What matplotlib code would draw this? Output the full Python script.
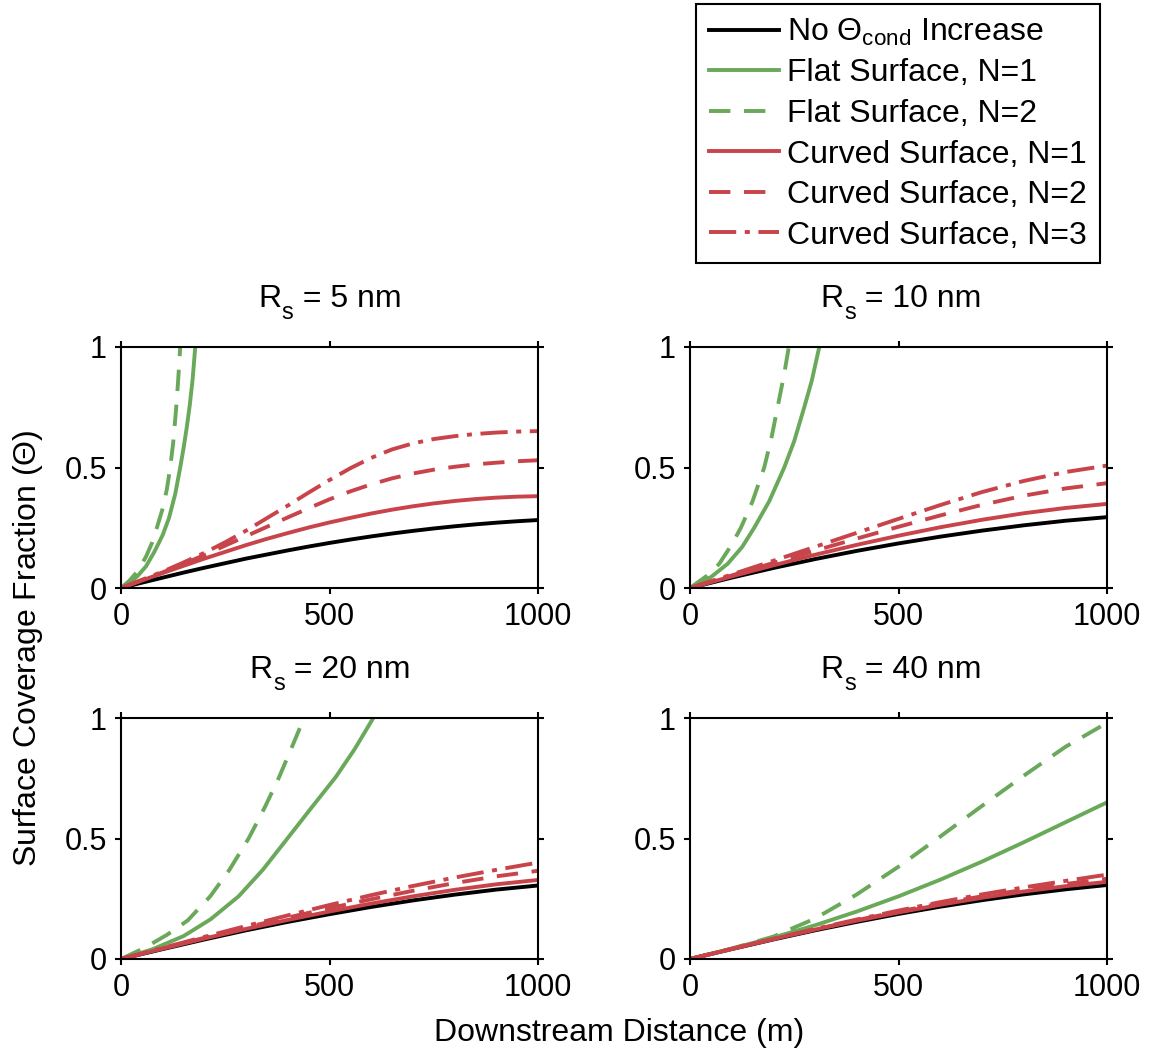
import matplotlib
matplotlib.use('Agg')
import matplotlib.pyplot as plt

plt.rcParams['font.family'] = ['Liberation Sans', 'DejaVu Sans']
plt.rcParams['mathtext.fontset'] = 'custom'
plt.rcParams['mathtext.rm'] = 'Liberation Sans'
plt.rcParams['mathtext.it'] = 'Liberation Sans:italic'
plt.rcParams['mathtext.bf'] = 'Liberation Sans:bold'

# downstream distance (m)
dist_fine = [0, 50, 100, 150, 200, 250, 300, 350, 400, 450, 500,
             550, 600, 650, 700, 750, 800, 850, 900, 950, 1000]
dist = [0, 100, 200, 300, 400, 500, 600, 700, 800, 900, 1000]

radii = ['5', '10', '20', '40']

# --- R_s = 5 nm (read on 50 m steps) ---
black_5 = [0, .022, .043, .064, .084, .103, .122, .139, .156, .172, .187,
           .201, .214, .226, .237, .247, .256, .264, .271, .277, .282]
red1_5 = [0, .031, .062, .092, .122, .150, .178, .204, .228, .251, .272,
          .291, .309, .325, .339, .351, .361, .369, .375, .379, .381]
red2_5 = [0, .032, .065, .100, .137, .176, .215, .254, .293, .331, .368,
          .401, .430, .455, .475, .491, .503, .513, .520, .526, .530]
red3_5 = [0, .034, .068, .106, .146, .190, .238, .290, .342, .396, .448,
          .497, .540, .575, .600, .618, .630, .639, .645, .649, .651]

# --- R_s = 10, 20, 40 nm (read on 100 m steps) ---
black_10 = [0, .043, .083, .120, .154, .185, .213, .238, .260, .279, .294]
red1_10 = [0, .048, .094, .138, .179, .217, .252, .283, .310, .332, .349]
red2_10 = [0, .052, .104, .155, .205, .254, .301, .345, .383, .413, .435]
red3_10 = [0, .056, .113, .171, .229, .287, .344, .398, .444, .481, .508]

black_20 = [0, .041, .081, .119, .154, .186, .216, .243, .267, .288, .305]
red1_20 = [0, .043, .085, .125, .162, .197, .230, .260, .287, .310, .328]
red2_20 = [0, .044, .088, .131, .172, .211, .248, .283, .315, .343, .366]
red3_20 = [0, .046, .092, .137, .181, .224, .265, .303, .338, .370, .400]

black_40 = [0, .041, .081, .119, .154, .187, .217, .244, .268, .289, .307]
red1_40 = [0, .042, .083, .122, .159, .193, .225, .254, .280, .302, .320]
red2_40 = [0, .042, .083, .123, .161, .197, .230, .260, .287, .311, .333]
red3_40 = [0, .042, .084, .125, .164, .201, .236, .268, .297, .324, .350]

# flat surface curves, each with its own x points
green1_x_5 = [0, 20, 40, 60, 80, 100, 115, 130, 142, 150, 158, 165, 172, 178]
green1_y_5 = [0, .02, .05, .09, .15, .22, .29, .39, .50, .58, .67, .76, .87, 1.0]
green2_x_5 = [0, 20, 40, 60, 75, 86, 100, 110, 118, 125, 132, 137, 142]
green2_y_5 = [0, .03, .07, .13, .19, .25, .33, .41, .50, .60, .74, .86, 1.0]

green1_x_10 = [0, 50, 90, 125, 154, 190, 226, 250, 274, 292, 310]
green1_y_10 = [0, .045, .10, .17, .25, .36, .50, .61, .75, .86, 1.0]
green2_x_10 = [0, 40, 70, 100, 122, 150, 178, 195, 210, 225, 237]
green2_y_10 = [0, .05, .10, .18, .25, .36, .50, .62, .75, .88, 1.0]

green1_x_20 = [0, 75, 150, 215, 282, 340, 399, 460, 515, 560, 605]
green1_y_20 = [0, .04, .095, .165, .26, .37, .50, .635, .755, .87, 1.0]
green2_x_20 = [0, 55, 110, 160, 214, 260, 306, 345, 378, 410, 439]
green2_y_20 = [0, .045, .10, .16, .26, .37, .50, .63, .75, .88, 1.0]

green1_40 = [0, .043, .089, .140, .197, .260, .329, .404, .484, .567, .650]
green2_40 = [0, .043, .093, .168, .268, .383, .508, .635, .760, .880, .980]

panels = [
    (dist_fine, black_5, red1_5, red2_5, red3_5, green1_x_5, green1_y_5, green2_x_5, green2_y_5),
    (dist, black_10, red1_10, red2_10, red3_10, green1_x_10, green1_y_10, green2_x_10, green2_y_10),
    (dist, black_20, red1_20, red2_20, red3_20, green1_x_20, green1_y_20, green2_x_20, green2_y_20),
    (dist, black_40, red1_40, red2_40, red3_40, dist, green1_40, dist, green2_40),
]

green = '#6aa85a'
red = '#c8444a'
lw = 2.8

fig = plt.figure(figsize=(11.51, 10.53), dpi=100)
W, H = 1151.0, 1053.0
lefts = [121, 690, 121, 690]
bottoms = [588, 588, 959, 959]
title_x = [0.3285, 0.312, 0.309, 0.312]


def rs_title(ax, num, x0):
    # MATLAB style subscript: drawn as separate pieces
    t1 = ax.text(x0, 1.166, 'R', transform=ax.transAxes, ha='left', va='baseline', fontsize=23)
    t2 = ax.annotate('s', xy=(1, 0), xycoords=t1, xytext=(0.5, -7), textcoords='offset points',
                     ha='left', va='bottom', fontsize=17)
    ax.annotate(' = ' + num + ' nm', xy=(1, 0), xycoords=t2, xytext=(0, 7), textcoords='offset points',
                ha='left', va='bottom', fontsize=23)


for i in range(4):
    x, bk, r1, r2, r3, g1x, g1y, g2x, g2y = panels[i]
    ax = fig.add_axes([lefts[i] / W, 1 - bottoms[i] / H, 417 / W, 241 / H])
    l0, = ax.plot(x, bk, color='black', lw=lw, label=r'No $\Theta_{\mathrm{cond}}$ Increase')
    l1, = ax.plot(g1x, g1y, color=green, lw=lw, label='Flat Surface, N=1')
    l2, = ax.plot(g2x, g2y, color=green, lw=lw, dashes=(5.5, 3.5), label='Flat Surface, N=2')
    l3, = ax.plot(x, r1, color=red, lw=lw, label='Curved Surface, N=1')
    l4, = ax.plot(x, r2, color=red, lw=lw, dashes=(5.5, 3.5), label='Curved Surface, N=2')
    l5, = ax.plot(x, r3, color=red, lw=lw, dashes=(7, 2.2, 1.3, 2.2), label='Curved Surface, N=3')
    ax.set_xlim(0, 1000)
    ax.set_ylim(0, 1)
    ax.set_xticks([0, 500, 1000])
    ax.set_yticks([0, 0.5, 1])
    ax.set_yticklabels(['0', '0.5', '1'])
    ax.tick_params(direction='out', length=4, width=1.5, labelsize=22, pad=6,
                   top=True, right=True)
    for s in ax.spines.values():
        s.set_linewidth(1.5)
    rs_title(ax, radii[i], title_x[i])
    if i == 0:
        handles = [l0, l1, l2, l3, l4, l5]

leg = fig.legend(handles=handles, loc='upper right', bbox_to_anchor=(1100 / W, 1 - 4 / H),
                 borderaxespad=0, fontsize=23, handlelength=2.2, handletextpad=0.25,
                 labelspacing=0.33, borderpad=0.4, fancybox=False, framealpha=1)
leg.get_frame().set_edgecolor('black')
leg.get_frame().set_linewidth(1.5)

fig.text(28 / W, 1 - 648 / H, r'Surface Coverage Fraction ($\Theta$)', rotation=90,
         ha='center', va='center', fontsize=23)
fig.text(619 / W, 1 - 1033 / H, 'Downstream Distance (m)', ha='center', va='center', fontsize=23)

fig.savefig('out.png', dpi=100)
